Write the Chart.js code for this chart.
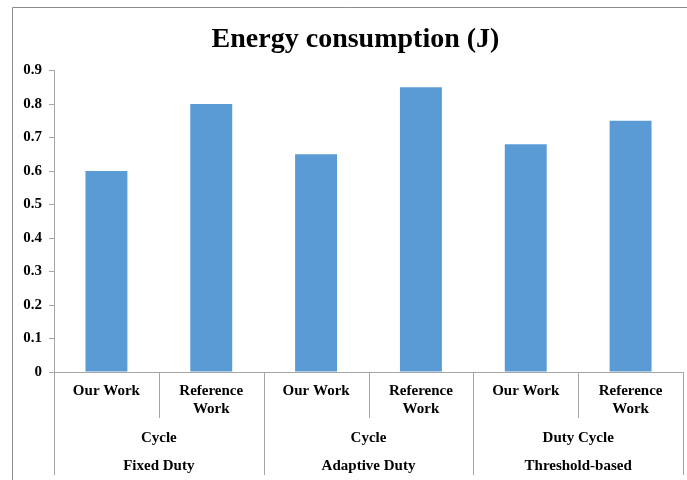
<!DOCTYPE html>
<html>
<head>
<meta charset="utf-8">
<script src="https://cdn.jsdelivr.net/npm/chart.js@4/dist/chart.umd.min.js"></script>
<style>
  html, body { margin: 0; padding: 0; background: #ffffff; }
  #wrap { width: 687px; height: 480px; position: relative; }
</style>
</head>
<body>
<div id="wrap"><canvas id="c" width="687" height="480"></canvas></div>
<script>
// Bar labels (one per bar) and their strategy groups
const barLabels = ['Our Work', ['Reference', 'Work'], 'Our Work', ['Reference', 'Work'], 'Our Work', ['Reference', 'Work']];
const groupLabels = [['Cycle', 'Fixed Duty'], ['Cycle', 'Adaptive Duty'], ['Duty Cycle', 'Threshold-based']];
const groupSize = 2;

// Energy consumed per configuration, in joules
const energyValues = [0.60, 0.80, 0.65, 0.85, 0.68, 0.75];

// Y axis tick labels
const yTickLabels = ['0', '0.1', '0.2', '0.3', '0.4', '0.5', '0.6', '0.7', '0.8', '0.9'];

const serif = '"Liberation Serif", "Times New Roman", serif';
const lineGrey = '#A6A6A6';

// Outer frame plus the category / group divider lines below the x axis
const dividerPlugin = {
  id: 'dividers',
  afterLayout(chart) {
    // centre the title within the framed area rather than the whole canvas
    if (chart.titleBlock) {
      chart.titleBlock.left += 14;
      chart.titleBlock.right += 14;
    }
  },
  beforeDraw(chart) {
    const ctx = chart.ctx;
    ctx.save();
    ctx.fillStyle = '#ffffff';
    ctx.fillRect(0, 0, chart.width, chart.height);
    ctx.strokeStyle = '#8C8C8C';
    ctx.lineWidth = 1;
    ctx.beginPath();
    ctx.moveTo(12.5, chart.height);
    ctx.lineTo(12.5, 7.5);
    ctx.lineTo(chart.width, 7.5);
    ctx.stroke();
    ctx.restore();
  },
  afterDraw(chart) {
    const x = chart.scales.x;
    const x2 = chart.scales.x2;
    const ctx = chart.ctx;
    const step = x.getPixelForValue(1) - x.getPixelForValue(0);
    const top = chart.chartArea.bottom;
    ctx.save();
    ctx.strokeStyle = lineGrey;
    ctx.lineWidth = 1;
    for (let i = 0; i <= barLabels.length; i++) {
      const px = Math.round(x.getPixelForValue(0) - step / 2 + i * step) + 0.5;
      const bottom = (i % groupSize === 0) ? x2.bottom - 5 : x.bottom;
      ctx.beginPath();
      ctx.moveTo(px, top);
      ctx.lineTo(px, bottom);
      ctx.stroke();
    }
    ctx.restore();
  }
};

new Chart(document.getElementById('c'), {
  type: 'bar',
  data: {
    labels: barLabels,
    datasets: [{
      label: 'Energy consumption (J)',
      data: energyValues,
      backgroundColor: '#5B9BD5',
      borderWidth: 0,
      barPercentage: 0.4,
      categoryPercentage: 1.0
    }]
  },
  options: {
    responsive: false,
    animation: false,
    devicePixelRatio: 1,
    layout: { padding: { left: 0, right: 4, top: 0, bottom: 0 } },
    plugins: {
      legend: { display: false },
      tooltip: { enabled: false },
      title: {
        display: true,
        text: 'Energy consumption (J)',
        color: '#000000',
        font: { family: serif, size: 28, weight: 'bold', lineHeight: 1.2 },
        padding: { top: 23, bottom: 14 }
      }
    },
    scales: {
      y: {
        min: 0,
        max: 0.9,
        ticks: {
          stepSize: 0.1,
          color: '#000000',
          padding: 7,
          font: { family: serif, size: 15, weight: 'bold' },
          callback: (v, i) => yTickLabels[i]
        },
        grid: { drawOnChartArea: false, tickLength: 5, color: lineGrey },
        border: { color: lineGrey },
        afterFit(scale) { scale.width = 54; }
      },
      x: {
        position: 'bottom',
        ticks: {
          color: '#000000',
          padding: 10,
          maxRotation: 0,
          autoSkip: false,
          font: { family: serif, size: 15, weight: 'bold', lineHeight: 1.2 }
        },
        grid: { display: false, drawTicks: false },
        border: { display: true, color: lineGrey },
        afterFit(scale) { scale.height = 46; }
      },
      x2: {
        type: 'category',
        position: 'bottom',
        labels: groupLabels,
        offset: true,
        ticks: {
          color: '#000000',
          padding: 6,
          maxRotation: 0,
          autoSkip: false,
          font: { family: serif, size: 15, weight: 'bold', lineHeight: 1.87 }
        },
        grid: { display: false, drawTicks: false },
        border: { display: false },
        afterFit(scale) { scale.height = 62; }
      }
    }
  },
  plugins: [dividerPlugin]
});
</script>
</body>
</html>
